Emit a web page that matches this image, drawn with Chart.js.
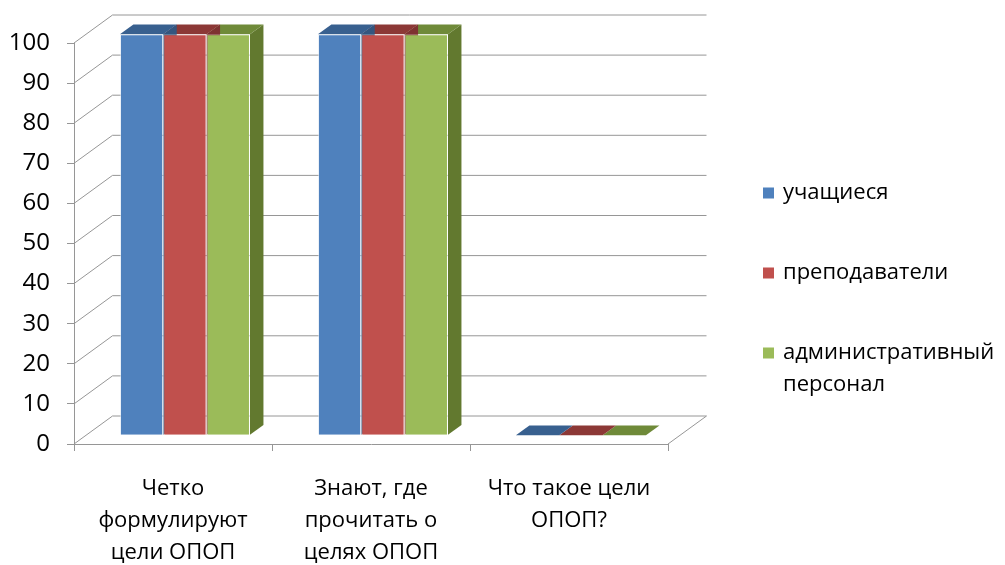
<!DOCTYPE html>
<html>
<head>
<meta charset="utf-8">
<script src="https://cdn.jsdelivr.net/npm/chart.js@4.4.1/dist/chart.umd.min.js"></script>
<style>
  html, body { margin: 0; padding: 0; background: #fff; }
  #wrap { width: 1005px; height: 565px; }
</style>
</head>
<body>
<div id="wrap"><canvas id="myChart"></canvas></div>
<script>
// data
const categories = [
  ["Четко", "формулируют", "цели ОПОП"],
  ["Знают, где", "прочитать о", "целях ОПОП"],
  ["Что такое цели", "ОПОП?"]
];
const seriesNames = ["учащиеся", "преподаватели", "административный персонал"];
const students = [100, 100, 0];
const teachers = [100, 100, 0];
const adminStaff = [100, 100, 0];
const yMin = 0, yMax = 100, yStep = 10;

// look
const frontColors = ["#4f81bd", "#c0504d", "#9bbb59"];
const topColors = ["#38608f", "#8c3836", "#6f8a39"];
const sideColors = ["#33567f", "#7e3231", "#62792f"];
const axisColor = "#969696";
const fontFamily = "'Open Sans', 'Noto Sans', sans-serif";
const font = { family: fontFamily, size: 22 };

// fake 3d: wall depth, where the bar sits in it, and its own depth
const DX = 38.5, DY = -28;
const SHIFT = 0.31, BAR_DEPTH = 0.35;

function poly(ctx, pts, color) {
  ctx.beginPath();
  ctx.moveTo(pts[0][0], pts[0][1]);
  for (let i = 1; i < pts.length; i++) ctx.lineTo(pts[i][0], pts[i][1]);
  ctx.closePath();
  ctx.fillStyle = color;
  ctx.fill();
}

const depth3d = {
  id: "depth3d",
  beforeDatasetsDraw(chart) {
    const { ctx, chartArea: a, scales: { y } } = chart;
    ctx.save();
    ctx.strokeStyle = axisColor;
    ctx.lineWidth = 1;
    ctx.beginPath();
    y.ticks.forEach((t) => {
      const py = y.getPixelForValue(t.value);
      ctx.moveTo(a.left, py);
      ctx.lineTo(a.left + DX, py + DY);
      ctx.lineTo(a.right + DX, py + DY);
    });
    ctx.moveTo(a.right, a.bottom);
    ctx.lineTo(a.right + DX, a.bottom + DY);
    ctx.stroke();
    ctx.restore();

    // shift bars into the middle of the floor depth, then draw tops and sides
    ctx.save();
    ctx.translate(DX * SHIFT, DY * SHIFT);
    const bx = DX * BAR_DEPTH, by = DY * BAR_DEPTH;
    for (let i = chart.data.datasets.length - 1; i >= 0; i--) {
      const meta = chart.getDatasetMeta(i);
      meta.data.forEach((bar) => {
        const p = bar.getProps(["x", "y", "base", "width"], true);
        const l = p.x - p.width / 2, r = p.x + p.width / 2;
        poly(ctx, [[r, p.y], [r + bx, p.y + by], [r + bx, p.base + by], [r, p.base]], sideColors[i]);
        poly(ctx, [[l, p.y], [r, p.y], [r + bx, p.y + by], [l + bx, p.y + by]], topColors[i]);
      });
    }
  },
  afterDatasetsDraw(chart) {
    chart.ctx.restore();
  }
};

const legendRight = {
  id: "legendRight",
  afterDraw(chart) {
    const ctx = chart.ctx;
    const x0 = 763, y0 = 193, gap = 80, lineH = 32, box = 11;
    ctx.save();
    ctx.font = font.size + "px " + font.family;
    ctx.textBaseline = "middle";
    chart.data.datasets.forEach((ds, i) => {
      const cy = y0 + i * gap;
      ctx.fillStyle = frontColors[i];
      ctx.fillRect(x0, cy - box / 2, box, box);
      // wrap by width
      const words = ds.label.split(" ");
      const lines = [];
      let cur = "";
      words.forEach((w) => {
        const test = cur ? cur + " " + w : w;
        if (cur && ctx.measureText(test).width > 1000 - (x0 + 20)) {
          lines.push(cur);
          cur = w;
        } else cur = test;
      });
      lines.push(cur);
      ctx.fillStyle = "#000";
      lines.forEach((ln, k) => ctx.fillText(ln, x0 + 20, cy + k * lineH));
    });
    ctx.restore();
  }
};

const ctx = document.getElementById("myChart");
new Chart(ctx, {
  type: "bar",
  data: {
    labels: categories,
    datasets: [
      { label: seriesNames[0], data: students },
      { label: seriesNames[1], data: teachers },
      { label: seriesNames[2], data: adminStaff }
    ].map((ds, i) => Object.assign(ds, {
      backgroundColor: frontColors[i],
      borderColor: "rgba(255,255,255,0.55)",
      borderWidth: 1,
      categoryPercentage: 0.657,
      barPercentage: 1
    }))
  },
  options: {
    responsive: true,
    maintainAspectRatio: false,
    animation: false,
    layout: { padding: { top: 43, right: 337, left: 0, bottom: 0 } },
    plugins: { legend: { display: false }, tooltip: { enabled: false } },
    scales: {
      y: {
        min: yMin,
        max: yMax,
        ticks: { stepSize: yStep, padding: 17, font: { family: fontFamily, size: 24 }, color: "#000" },
        grid: { drawOnChartArea: false, tickLength: 7, color: axisColor },
        border: { color: axisColor },
        afterFit(s) { s.width = 74; }
      },
      x: {
        ticks: { padding: 22, font: Object.assign({ lineHeight: 1.45 }, font), color: "#000", maxRotation: 0, autoSkip: false },
        grid: { drawOnChartArea: false, offset: true, tickLength: 7, color: axisColor },
        border: { color: axisColor },
        afterFit(s) { s.height = 121; }
      }
    }
  },
  plugins: [depth3d, legendRight]
});
</script>
</body>
</html>
